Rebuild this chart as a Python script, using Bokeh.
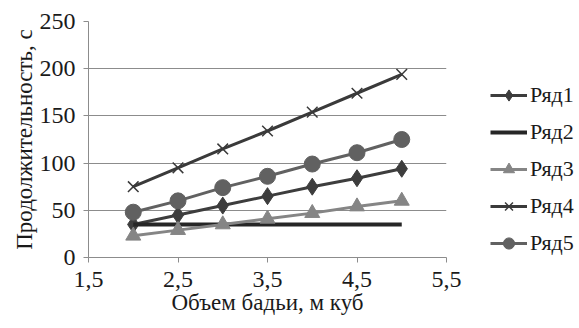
from bokeh.plotting import figure
from bokeh.layouts import row
from bokeh.models import Legend, LegendItem, Range1d, FixedTicker, CustomJSTickFormatter
from bokeh.embed import file_html
from bokeh.resources import INLINE

x = [2.0, 2.5, 3.0, 3.5, 4.0, 4.5, 5.0]
ryad1 = [35, 45, 55, 65, 75, 84, 94]
ryad2 = [35, 35, 35, 35, 35, 35, 35]
ryad3 = [23, 29, 35, 41, 47, 54, 60]
ryad4 = [75, 95, 115, 134, 154, 174, 194]
ryad5 = [48, 60, 74, 86, 99, 111, 125]
names = ["Ряд1", "Ряд2", "Ряд3", "Ряд4", "Ряд5"]
x_ticks = [1.5, 2.5, 3.5, 4.5, 5.5]
y_ticks = [0, 50, 100, 150, 200, 250]

FONT = "Liberation Serif"
colors = ["#3d3d3d", "#262626", "#858585", "#3a3a3a", "#616161"]

p = figure(width=470, height=328, output_backend="svg", toolbar_location=None,
           x_range=Range1d(1.5, 5.5), y_range=Range1d(0, 250),
           min_border_left=88, min_border_right=24, min_border_top=21, min_border_bottom=71)
p.outline_line_color = None
p.background_fill_color = "white"
p.border_fill_color = "white"

p.xgrid.grid_line_color = None
p.ygrid.grid_line_color = "#8c8c8c"
p.ygrid.grid_line_width = 1

p.xaxis.ticker = FixedTicker(ticks=x_ticks)
p.yaxis.ticker = FixedTicker(ticks=y_ticks)
p.xaxis.formatter = CustomJSTickFormatter(code="return tick.toFixed(1).replace('.', ',');")
p.yaxis.formatter = CustomJSTickFormatter(code="return tick.toFixed(0);")
for ax in (p.xaxis, p.yaxis):
    ax.axis_line_color = "#8c8c8c"
    ax.major_tick_line_color = "#8c8c8c"
    ax.minor_tick_line_color = None
    ax.major_tick_in = 0
    ax.major_tick_out = 5
    ax.major_label_text_font = FONT
    ax.major_label_text_font_size = "24px"
    ax.major_label_text_font_style = "normal"
    ax.major_label_text_color = "#1a1a1a"
    ax.axis_label_text_font = FONT
    ax.axis_label_text_font_size = "23px"
    ax.axis_label_text_font_style = "normal"
    ax.axis_label_text_color = "#1a1a1a"
p.xaxis.axis_label = "Объем бадьи, м куб"
p.yaxis.axis_label = "Продолжительность, с"
p.xaxis.major_label_standoff = 9
p.yaxis.major_label_standoff = 8
p.xaxis.axis_label_standoff = 0
p.yaxis.axis_label_standoff = 0

series = [ryad1, ryad2, ryad3, ryad4, ryad5]
markers = ["diamond", None, "triangle", "x", "circle"]
sizes = [17, 0, 15, 15, 16]
widths = [3, 4, 3, 3, 3]

# legend panel: second figure whose copies of the series lie outside its ranges
q = figure(width=109, height=328, output_backend="svg", toolbar_location=None,
           x_range=Range1d(100, 101), y_range=Range1d(1000, 1001),
           x_axis_location=None, y_axis_location=None,
           min_border_left=0, min_border_right=0, min_border_top=21, min_border_bottom=71)
q.outline_line_color = None
q.xgrid.grid_line_color = None
q.ygrid.grid_line_color = None
q.background_fill_color = "white"
q.border_fill_color = "white"

items = []
for name, vals, mk, sz, lw, c in zip(names, series, markers, sizes, widths, colors):
    p.line(x, vals, line_color=c, line_width=lw)
    lq = q.line(x, vals, line_color=c, line_width=lw)
    rs = [lq]
    if mk is not None:
        if mk == "x":
            p.scatter(x, vals, marker=mk, size=sz, line_color=c, line_width=1.5)
            mq = q.scatter(x, vals, marker=mk, size=sz, line_color=c, line_width=1.5)
        else:
            p.scatter(x, vals, marker=mk, size=sz, fill_color=c, line_color=c)
            mq = q.scatter(x, vals, marker=mk, size=sz, fill_color=c, line_color=c)
        rs.append(mq)
    items.append(LegendItem(label=name, renderers=rs))

legend = Legend(items=items, location=(20, 0), orientation="vertical")
legend.border_line_color = None
legend.background_fill_alpha = 0
legend.label_text_font = FONT
legend.label_text_font_size = "22px"
legend.label_text_font_style = "normal"
legend.label_text_color = "#1a1a1a"
legend.glyph_width = 37
legend.glyph_height = 28
legend.spacing = 9
legend.padding = 0
legend.margin = 0
legend.label_standoff = 3
legend.label_height = 20
q.add_layout(legend, "center")

open("out.html", "w").write(file_html(row(p, q), INLINE))
